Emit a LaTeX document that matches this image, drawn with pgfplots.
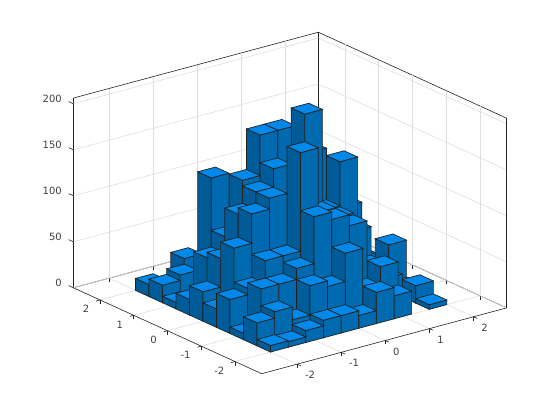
\documentclass[border=0pt]{standalone}
\usepackage{fontspec}
\setmainfont{DejaVu Sans}
\usepackage{pgfplots}
\pgfplotsset{compat=1.18}
\definecolor{ctop}{RGB}{0,136,234}
\definecolor{cmid}{RGB}{0,106,176}
\definecolor{cdark}{RGB}{0,92,152}
\definecolor{cedge}{RGB}{34,34,34}
\definecolor{ctick}{RGB}{64,64,64}
\definecolor{cgrid}{RGB}{222,222,222}
% one bar: y0, y1, height; x0 and x1 are set for each block
\newcommand{\B}[3]{%
 \addplot3[forget plot,mark=none,solid,draw=cedge,line width=0.7pt,fill=cdark] coordinates {(\xa,#1,0)(\xa,#2,0)(\xa,#2,#3)(\xa,#1,#3)} --cycle;
 \addplot3[forget plot,mark=none,solid,draw=cedge,line width=0.7pt,fill=cmid] coordinates {(\xa,#1,0)(\xb,#1,0)(\xb,#1,#3)(\xa,#1,#3)} --cycle;
 \addplot3[forget plot,mark=none,solid,draw=cedge,line width=0.7pt,fill=ctop] coordinates {(\xa,#1,#3)(\xb,#1,#3)(\xb,#2,#3)(\xa,#2,#3)} --cycle;
}
\begin{document}
\begin{tikzpicture}
\path[use as bounding box] (0,0) rectangle (560pt,420pt);
\begin{axis}[
  at={(291.2pt,122.5pt)},anchor=origin,
  x={(44.1pt,11.85pt)},y={(-33.75pt,15.4pt)},z={(0pt,0.92pt)},
  xmin=-2.805,xmax=2.75,ymin=-2.79,ymax=2.79,zmin=0,zmax=206.2,
  xtick={-2,-1,0,1,2},xticklabels={-2,-1,0,1,2},
  ytick={-2,-1,0,1,2},yticklabels={-2,-1,0,1,2},
  ztick={0,50,100,150,200},zticklabels={0,50,100,150,200},
  xtick pos=left,ytick pos=left,ztick pos=left,zticklabel pos=left,
  grid=major,
  major grid style={cgrid,line width=0.6pt},
  tick align=outside,
  major tick length=4pt,
  tick style={cedge,line width=0.6pt},
  z tick style={draw=none},
  axis line style={cedge,line width=0.6pt},
  tick label style={font=\fontsize{10pt}{12pt}\selectfont,text=ctick},
  xticklabel style={anchor=west,xshift=0.7pt,yshift=-9.3pt},
  yticklabel style={anchor=east,xshift=-3.3pt,yshift=-8.0pt},
  zticklabel style={anchor=east,xshift=-4.4pt,yshift=2.8pt},
  clip=false,
]
\def\xa{1.6}\def\xb{2}
\B{1.6}{2}{3}\B{1.2}{1.6}{5}\B{0.8}{1.2}{8}\B{0.4}{0.8}{12}\B{0}{0.4}{12}\B{-0.4}{0}{20}\B{-0.8}{-0.4}{50}\B{-1.2}{-0.8}{10}\B{-1.6}{-1.2}{19}\B{-2}{-1.6}{5}
\def\xa{1.2}\def\xb{1.6}
\B{1.6}{2}{8}\B{1.2}{1.6}{15}\B{0.8}{1.2}{25}\B{0.4}{0.8}{40}\B{0}{0.4}{83}\B{-0.4}{0}{35}\B{-0.8}{-0.4}{25}\B{-1.2}{-0.8}{25}
\def\xa{0.8}\def\xb{1.2}
\B{1.6}{2}{15}\B{1.2}{1.6}{25}\B{0.8}{1.2}{45}\B{0.4}{0.8}{70}\B{0}{0.4}{110}\B{-0.4}{0}{144}\B{-0.8}{-0.4}{75}\B{-1.2}{-0.8}{44}\B{-1.6}{-1.2}{50}\B{-2}{-1.6}{25}
\def\xa{0.4}\def\xb{0.8}
\B{1.6}{2}{25}\B{1.2}{1.6}{50}\B{0.8}{1.2}{80}\B{0.4}{0.8}{120}\B{0}{0.4}{152}\B{-0.4}{0}{96}\B{-0.8}{-0.4}{95}\B{-1.2}{-0.8}{93}\B{-1.6}{-1.2}{31}\B{-2}{-1.6}{34}
\def\xa{0}\def\xb{0.4}
\B{1.6}{2}{30}\B{1.2}{1.6}{60}\B{0.8}{1.2}{100}\B{0.4}{0.8}{175}\B{0}{0.4}{135}\B{-0.4}{0}{206}\B{-0.8}{-0.4}{106}\B{-1.2}{-0.8}{105}\B{-1.6}{-1.2}{75}\B{-2}{-1.6}{14}
\def\xa{-0.4}\def\xb{0}
\B{1.6}{2}{30}\B{1.2}{1.6}{60}\B{0.8}{1.2}{100}\B{0.4}{0.8}{175}\B{0}{0.4}{145}\B{-0.4}{0}{110}\B{-0.8}{-0.4}{176}\B{-1.2}{-0.8}{113}\B{-1.6}{-1.2}{44}\B{-2}{-1.6}{19}
\def\xa{-0.8}\def\xb{-0.4}
\B{1.6}{2}{20}\B{1.2}{1.6}{60}\B{0.8}{1.2}{90}\B{0.4}{0.8}{131}\B{0}{0.4}{125}\B{-0.4}{0}{125}\B{-0.8}{-0.4}{69}\B{-1.2}{-0.8}{62}\B{-1.6}{-1.2}{50}\B{-2}{-1.6}{19}
\def\xa{-1.2}\def\xb{-0.8}
\B{1.6}{2}{31}\B{1.2}{1.6}{18}\B{0.8}{1.2}{132}\B{0.4}{0.8}{75}\B{0}{0.4}{106}\B{-0.4}{0}{113}\B{-0.8}{-0.4}{69}\B{-1.2}{-0.8}{50}\B{-1.6}{-1.2}{18}\B{-2}{-1.6}{13}
\def\xa{-1.6}\def\xb{-1.2}
\B{1.6}{2}{5}\B{1.2}{1.6}{25}\B{0.8}{1.2}{5}\B{0.4}{0.8}{57}\B{0}{0.4}{63}\B{-0.4}{0}{81}\B{-0.8}{-0.4}{44}\B{-1.2}{-0.8}{50}\B{-1.6}{-1.2}{32}\B{-2}{-1.6}{6}
\def\xa{-2}\def\xb{-1.6}
\B{1.6}{2}{13}\B{1.2}{1.6}{19}\B{0.8}{1.2}{7}\B{0.4}{0.8}{17}\B{0}{0.4}{32}\B{-0.4}{0}{20}\B{-0.8}{-0.4}{37}\B{-1.2}{-0.8}{7}\B{-1.6}{-1.2}{25}\B{-2}{-1.6}{7}
% z axis ticks on the left-hand vertical edge
\draw[cedge,line width=0.6pt] (axis cs:-2.805,2.79,0)--(axis cs:-2.805,2.93,0);
\draw[cedge,line width=0.6pt] (axis cs:-2.805,2.79,50)--(axis cs:-2.805,2.93,50);
\draw[cedge,line width=0.6pt] (axis cs:-2.805,2.79,100)--(axis cs:-2.805,2.93,100);
\draw[cedge,line width=0.6pt] (axis cs:-2.805,2.79,150)--(axis cs:-2.805,2.93,150);
\draw[cedge,line width=0.6pt] (axis cs:-2.805,2.79,200)--(axis cs:-2.805,2.93,200);
\end{axis}
\end{tikzpicture}
\end{document}
